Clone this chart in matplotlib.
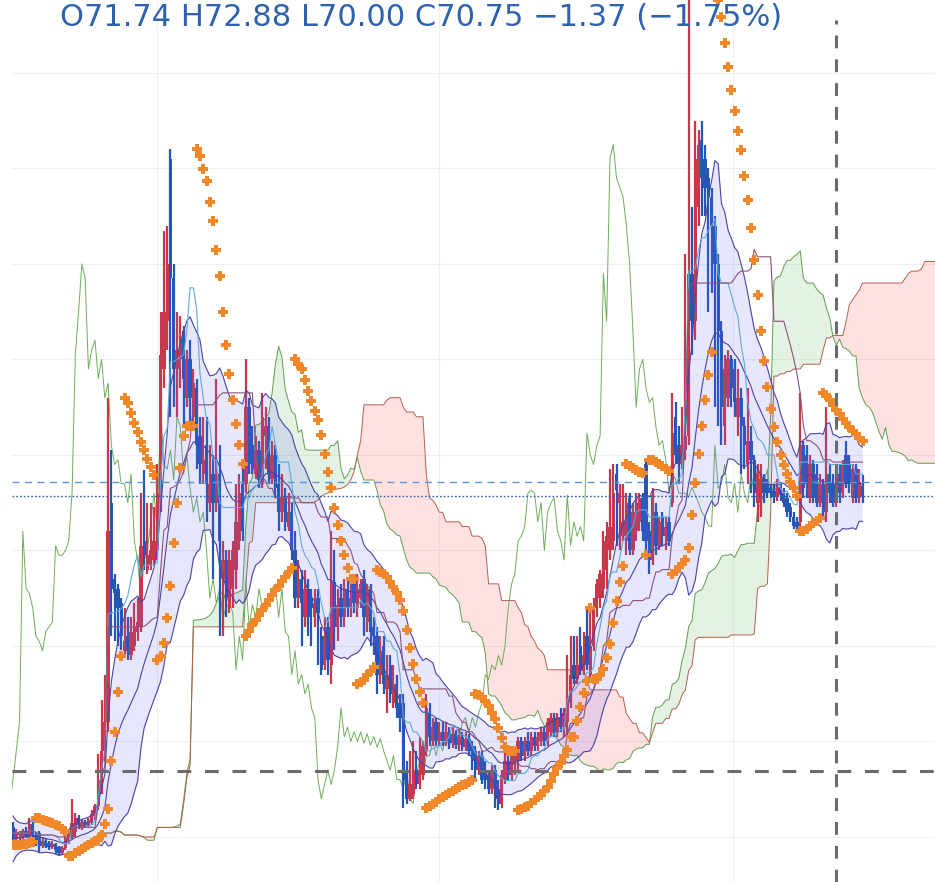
#!/usr/bin/env python3
"""Daily OHLC with price channel, Ichimoku cloud and Parabolic SAR -> out.png."""

import matplotlib
matplotlib.use("Agg")
import matplotlib.pyplot as plt
import numpy as np
import pandas as pd

# ---- price data ----------------------------------------------------------
opens = [
    36.0, 34.8, 35.2, 35.0, 35.6, 35.0, 36.4, 35.2, 35.4, 34.0,
    34.6, 34.4, 33.9, 34.3, 33.9, 33.3, 33.8, 34.6, 35.0, 35.5,
    37.0, 36.0, 36.6, 36.2, 36.5, 37.2, 38.2, 40.0, 44.0, 47.0,
    70.0, 62.0, 61.0, 59.5, 54.5, 56.0, 54.0, 55.0, 56.5, 57.0,
    66.0, 63.0, 63.5, 64.0, 65.0, 70.0, 84.0, 89.0, 106.0, 93.5,
    84.0, 85.0, 88.0, 81.0, 85.0, 79.0, 82.0, 77.0, 73.0, 76.0,
    70.0, 73.0, 70.0, 73.0, 62.0, 64.0, 59.0, 61.0, 63.0, 66.0,
    72.0, 72.0, 80.0, 76.0, 73.0, 75.5, 72.0, 77.0, 78.0, 72.5,
    75.0, 72.0, 69.0, 70.5, 67.5, 69.0, 65.0, 60.0, 62.0, 58.0,
    61.0, 60.0, 58.0, 60.0, 56.0, 53.0, 57.0, 53.0, 61.7, 57.0,
    60.0, 58.0, 61.0, 59.0, 61.5, 59.0, 60.0, 62.0, 57.5, 61.0,
    57.0, 56.0, 52.0, 55.0, 50.5, 53.0, 49.0, 51.0, 49.0, 49.0,
    42.0, 39.0, 39.5, 42.0, 40.5, 41.5, 44.0, 48.0, 45.0, 47.0,
    45.0, 46.0, 45.0, 46.0, 44.8, 45.8, 44.6, 45.5, 44.4, 45.3,
    44.5, 44.0, 42.0, 43.5, 42.0, 41.5, 40.0, 42.0, 40.0, 38.5,
    41.0, 43.0, 41.5, 42.5, 43.0, 45.0, 43.5, 45.0, 44.0, 45.5,
    44.5, 45.0, 46.0, 45.0, 46.0, 47.5, 46.0, 47.5, 46.5, 47.0,
    49.0, 53.0, 51.5, 55.0, 52.5, 56.0, 52.0, 55.0, 59.0, 60.0,
    61.0, 63.0, 65.0, 66.0, 73.0, 70.0, 66.5, 66.0, 70.5, 65.0,
    67.0, 68.0, 70.5, 74.0, 67.0, 64.0, 69.0, 65.5, 68.5, 66.5,
    68.0, 70.0, 79.0, 76.0, 74.0, 75.5, 77.0, 94.0, 89.0, 101.0,
    108.0, 106.0, 104.0, 102.0, 99.0, 95.0, 88.0, 78.0, 81.0, 85.0,
    84.0, 79.0, 81.0, 78.0, 74.0, 76.5, 74.5, 70.0, 70.0, 72.5,
    72.0, 71.5, 71.2, 70.6, 71.6, 71.0, 70.5, 69.5, 68.5, 68.0,
    68.0, 76.0, 75.0, 70.5, 74.0, 73.0, 70.0, 72.0, 69.0, 73.0,
    72.0, 70.0, 73.0, 71.0, 75.0, 74.0, 70.5, 73.5, 70.5, 71.74,
]
highs = [
    36.6, 35.8, 35.6, 35.8, 36.0, 37.0, 36.6, 35.5, 35.6, 35.0,
    34.8, 34.6, 34.6, 34.4, 34.0, 34.0, 35.2, 35.6, 39.0, 37.5,
    37.3, 36.9, 36.8, 37.0, 37.8, 38.5, 43.7, 49.3, 52.0, 81.0,
    75.5, 62.5, 61.5, 60.0, 59.0, 58.0, 58.0, 59.5, 60.0, 71.0,
    73.4, 70.0, 70.0, 69.5, 74.0, 90.0, 98.5, 99.0, 107.0, 95.0,
    90.0, 89.5, 88.5, 86.0, 87.0, 84.0, 83.0, 79.0, 79.0, 79.0,
    76.0, 75.0, 83.0, 76.0, 66.0, 65.0, 65.0, 66.0, 72.0, 73.0,
    74.0, 85.0, 81.0, 78.0, 77.0, 76.5, 81.5, 80.0, 79.0, 76.5,
    76.0, 74.0, 73.0, 71.5, 71.0, 70.0, 67.0, 64.0, 63.0, 63.0,
    62.0, 61.0, 61.0, 61.0, 57.0, 58.0, 58.0, 67.0, 65.0, 61.0,
    61.5, 62.0, 62.0, 62.0, 62.0, 62.5, 62.0, 63.0, 61.5, 61.5,
    58.0, 57.0, 56.0, 56.0, 54.0, 54.0, 53.0, 52.0, 50.0, 50.0,
    43.0, 44.0, 45.0, 44.0, 45.5, 45.0, 50.0, 49.0, 47.5, 47.5,
    47.0, 47.0, 47.0, 46.5, 46.5, 46.2, 46.3, 46.0, 46.0, 45.8,
    45.0, 44.5, 44.0, 44.0, 43.0, 42.0, 42.5, 42.5, 41.0, 42.0,
    44.0, 43.5, 44.0, 44.0, 45.5, 45.5, 45.5, 46.0, 46.0, 46.0,
    46.0, 46.5, 46.5, 47.5, 48.0, 48.0, 48.0, 48.5, 48.5, 54.0,
    56.0, 56.0, 56.0, 57.0, 56.5, 59.0, 59.0, 60.0, 62.0, 63.0,
    67.0, 68.0, 73.5, 74.0, 74.0, 72.0, 72.0, 71.0, 71.0, 70.0,
    71.0, 71.0, 71.0, 74.5, 68.0, 71.5, 70.0, 68.5, 69.0, 68.5,
    68.5, 81.5, 80.5, 78.0, 80.0, 96.0, 123.5, 101.0, 110.0, 109.0,
    110.0, 107.5, 105.0, 103.0, 100.0, 96.0, 89.0, 85.5, 86.0, 85.5,
    85.0, 84.0, 82.0, 79.0, 82.0, 78.0, 75.0, 74.0, 74.0, 73.0,
    72.5, 72.0, 72.0, 72.5, 72.0, 71.5, 71.0, 70.0, 69.0, 68.5,
    81.5, 76.5, 76.0, 75.0, 74.5, 74.0, 73.0, 72.5, 80.0, 74.0,
    73.0, 73.5, 74.0, 74.5, 76.5, 75.0, 74.0, 74.0, 73.5, 72.88,
]
lows = [
    34.2, 34.5, 34.6, 34.7, 34.9, 34.8, 34.8, 34.0, 33.4, 33.8,
    33.8, 33.6, 33.7, 33.2, 33.0, 33.1, 33.6, 34.3, 34.8, 35.0,
    35.8, 35.7, 35.9, 36.0, 36.3, 36.8, 37.8, 39.5, 43.0, 46.0,
    56.0, 55.5, 55.0, 54.6, 54.0, 53.5, 53.5, 54.5, 55.5, 56.5,
    63.0, 62.5, 63.0, 63.5, 64.0, 69.0, 82.0, 86.0, 79.0, 80.0,
    79.0, 82.0, 78.0, 80.0, 78.0, 78.0, 73.5, 72.0, 72.0, 68.0,
    69.0, 62.0, 69.0, 56.0, 56.0, 58.0, 58.5, 59.0, 61.0, 65.0,
    66.0, 71.0, 73.0, 73.0, 72.5, 71.5, 71.5, 73.5, 72.0, 72.0,
    70.5, 67.0, 68.0, 67.0, 67.0, 64.0, 59.0, 59.0, 55.0, 57.0,
    56.0, 55.0, 57.0, 53.0, 52.0, 52.5, 52.0, 51.0, 54.6, 55.5,
    57.0, 57.0, 58.0, 58.0, 58.5, 58.0, 59.0, 56.0, 56.5, 55.0,
    54.0, 50.0, 51.0, 50.0, 48.0, 49.0, 48.5, 47.5, 46.0, 38.0,
    38.5, 38.8, 39.0, 40.0, 40.0, 41.0, 43.5, 44.5, 44.5, 44.5,
    44.5, 44.5, 44.5, 44.2, 44.3, 44.2, 44.0, 44.0, 44.0, 43.5,
    42.0, 41.0, 41.5, 40.5, 40.0, 39.5, 39.5, 38.0, 37.8, 38.0,
    40.5, 41.0, 41.0, 41.5, 42.0, 43.0, 43.0, 43.5, 43.5, 44.0,
    44.0, 44.5, 44.5, 44.5, 45.5, 45.5, 45.5, 46.0, 45.5, 45.5,
    48.5, 51.0, 51.0, 52.0, 52.0, 52.5, 51.5, 54.5, 58.0, 59.0,
    60.0, 61.0, 64.0, 65.0, 65.5, 65.0, 66.0, 64.5, 64.5, 64.5,
    66.0, 67.0, 66.0, 64.0, 62.5, 63.5, 64.5, 65.0, 65.5, 65.0,
    65.5, 69.5, 74.0, 72.0, 73.5, 74.5, 76.0, 85.5, 87.0, 99.0,
    100.0, 100.0, 90.0, 92.0, 80.0, 78.0, 76.0, 76.0, 80.0, 80.0,
    79.0, 77.0, 73.0, 73.5, 72.0, 71.0, 69.5, 68.0, 68.5, 70.0,
    70.5, 70.5, 70.0, 70.2, 70.2, 69.5, 68.5, 68.0, 67.2, 67.0,
    67.5, 70.5, 70.5, 70.0, 70.0, 69.5, 69.5, 68.5, 68.0, 70.0,
    69.5, 69.5, 70.0, 70.5, 71.5, 71.0, 70.0, 70.0, 70.0, 70.00,
]
closes = [
    34.8, 35.5, 35.4, 35.6, 35.1, 36.4, 35.2, 34.4, 34.0, 34.6,
    34.0, 33.9, 34.3, 33.6, 33.3, 33.8, 34.9, 35.3, 36.5, 37.0,
    36.2, 36.6, 36.3, 36.8, 37.4, 38.2, 41.0, 44.0, 47.0, 67.0,
    61.0, 60.5, 59.0, 56.0, 55.5, 54.5, 56.5, 57.0, 57.5, 65.5,
    64.5, 64.5, 65.0, 66.0, 71.0, 85.5, 90.0, 95.0, 93.5, 84.0,
    86.0, 87.0, 83.0, 85.0, 81.0, 82.5, 76.0, 74.0, 74.5, 72.0,
    72.0, 70.0, 73.0, 66.0, 64.0, 60.0, 64.0, 65.0, 68.0, 71.0,
    67.0, 80.0, 74.0, 73.5, 75.5, 72.4, 79.0, 78.0, 73.0, 75.0,
    71.5, 69.0, 70.5, 68.0, 69.0, 65.0, 60.0, 62.0, 59.5, 61.0,
    58.0, 59.0, 59.5, 58.5, 52.5, 56.0, 53.5, 61.7, 57.0, 59.3,
    58.0, 61.0, 59.0, 60.0, 59.5, 61.0, 61.5, 58.0, 61.0, 56.5,
    56.0, 52.0, 54.5, 51.0, 52.0, 50.0, 51.0, 48.5, 47.5, 41.0,
    39.0, 40.5, 42.0, 40.5, 42.0, 44.5, 48.5, 45.5, 46.5, 45.0,
    46.0, 45.0, 46.0, 44.8, 45.8, 44.6, 45.5, 44.4, 45.3, 44.0,
    43.0, 42.0, 43.5, 41.0, 41.0, 40.0, 42.0, 39.0, 38.5, 41.5,
    43.0, 41.5, 43.5, 43.5, 45.0, 43.5, 45.0, 44.0, 45.5, 44.5,
    45.5, 46.0, 45.0, 47.0, 47.5, 46.0, 47.5, 46.5, 48.0, 49.0,
    52.0, 51.5, 53.0, 52.5, 54.0, 53.0, 55.0, 59.0, 61.5, 62.5,
    66.0, 66.5, 67.5, 71.0, 71.3, 71.0, 68.0, 70.0, 65.0, 69.0,
    70.0, 70.5, 67.0, 66.0, 64.0, 70.8, 65.5, 68.0, 66.5, 67.5,
    66.0, 77.3, 75.0, 74.0, 76.0, 77.0, 94.0, 89.0, 106.0, 107.5,
    104.0, 103.0, 102.0, 99.0, 95.0, 88.0, 80.0, 84.0, 85.0, 82.0,
    80.5, 81.0, 78.0, 76.0, 76.5, 74.5, 71.0, 73.0, 72.5, 71.0,
    71.0, 71.0, 70.6, 71.6, 70.8, 70.0, 69.0, 68.5, 67.6, 67.5,
    76.0, 71.5, 72.0, 74.0, 70.5, 70.0, 72.0, 69.0, 73.0, 71.0,
    70.0, 73.0, 71.0, 74.0, 72.0, 72.0, 73.5, 70.5, 72.12, 70.75,
]

prev_close = 72.12
last_close = 70.75
cross_bar = 251          # hover crosshair
cross_price = 41.9
date_ticks = [44, 130, 219.5]
price_ticks = [35, 45, 55, 65, 75, 85, 95, 105, 115]
header = "O71.74 H72.88 L70.00 C70.75 −1.37 (−1.75%)"

SHIFT = 26
RED = "#c9374a"
BLUE = "#2456b4"


def parabolic_sar(high, low, step=0.02, amax=0.2):
    n = len(high)
    sar = np.zeros(n)
    up, af, ep = True, step, high[0]
    sar[0] = low[0]
    for i in range(1, n):
        s = sar[i - 1] + af * (ep - sar[i - 1])
        if up:
            s = min(s, low[i - 1], low[max(i - 2, 0)])
            if low[i] < s:
                up, s, ep, af = False, ep, low[i], step
            elif high[i] > ep:
                ep, af = high[i], min(af + step, amax)
        else:
            s = max(s, high[i - 1], high[max(i - 2, 0)])
            if high[i] > s:
                up, s, ep, af = True, ep, high[i], step
            elif low[i] < ep:
                ep, af = low[i], min(af + step, amax)
        sar[i] = s
    return sar


df = pd.DataFrame({"o": opens, "h": highs, "l": lows, "c": closes})
x = np.arange(len(df))

# channel: EMA20 +/- ATR10
mid = df.c.ewm(span=20, adjust=False).mean()
prev_c = df.c.shift(1).fillna(df.o)
tr = pd.concat([df.h - df.l, (df.h - prev_c).abs(), (df.l - prev_c).abs()], axis=1).max(axis=1)
atr = tr.rolling(10, min_periods=1).mean()
ch_up, ch_lo = mid + atr, mid - atr


def midpoint(n):
    return (df.h.rolling(n, min_periods=1).max() + df.l.rolling(n, min_periods=1).min()) / 2


tenkan = midpoint(9)
kijun = midpoint(26)
span_a = (tenkan + kijun) / 2
span_b = midpoint(52)
sar = parabolic_sar(df.h.values, df.l.values)

fig = plt.figure(figsize=(9.35, 8.82), dpi=100)
ax = fig.add_axes([12 / 935, 0, 923 / 935, 1])

# cloud, shifted forward
xs = x + SHIFT
ax.fill_between(xs, span_a, span_b, where=span_a >= span_b, interpolate=True,
                color=(0.35, 0.7, 0.35, 0.16), lw=0, zorder=1)
ax.fill_between(xs, span_a, span_b, where=span_a < span_b, interpolate=True,
                color=(1.0, 0.35, 0.35, 0.18), lw=0, zorder=1)
ax.plot(xs, span_a, color="#5e9f4f", lw=0.7, zorder=2)
ax.plot(xs, span_b, color="#b2604c", lw=0.7, zorder=2)
# lagging span
ax.plot(x - SHIFT, df.c, color="#6cae5a", lw=0.7, zorder=2)

# candles
up = df.c >= df.o
colors = np.where(up, RED, BLUE)
ax.vlines(x, df.l, df.h, colors=colors, lw=1.6, zorder=3)
ax.bar(x, (df.c - df.o).abs().clip(lower=0.3), bottom=np.minimum(df.o, df.c),
       width=1.0, color=colors, lw=0, zorder=3)

# channel drawn over the candles
ax.fill_between(x, ch_lo, ch_up, color=(0.4, 0.4, 0.95, 0.16), lw=0, zorder=4)
for s in (ch_up, ch_lo, mid):
    ax.plot(x, s, color="#4a44a6", lw=0.8, zorder=5)
ax.plot(x, tenkan, color="#5ea9d8", lw=0.8, zorder=5)
ax.plot(x, kijun, color="#8d5279", lw=0.8, zorder=5)

# parabolic SAR
ax.plot(x, sar, ls="none", marker="P", ms=6.5, color="#f0882a", mew=0, zorder=6)

# last / previous close lines
ax.axhline(prev_close, color="#5f96d2", lw=1.0, ls=(0, (5, 4)), zorder=5)
ax.axhline(last_close, color="#2b5ea8", lw=1.0, ls=(0, (1.2, 1.5)), zorder=5)

# hover crosshair (vertical spike starts just under the header)
ax.axvline(cross_bar, ymax=1 - 20 / 882, color="#6b6b6b", lw=2.2,
           ls=(0, (4.2, 3.6)), zorder=7)
ax.axhline(cross_price, color="#6b6b6b", lw=2.2, ls=(0, (4.5, 4.5)), zorder=7)

ax.set_xlim(-0.3, 281.1)
ax.set_ylim(30.28, 122.64)
ax.set_xticks(date_ticks)
ax.set_yticks(price_ticks)
ax.grid(color="#efefef", lw=0.8, zorder=0)
ax.set_axisbelow(True)
ax.tick_params(length=0, labelbottom=False, labelleft=False)
for sp in ax.spines.values():
    sp.set_visible(False)

fig.text(60 / 935, 1 - 26 / 882, header, color="#2e62ae", fontsize=22,
         va="baseline", ha="left")

fig.savefig("out.png", dpi=100)
